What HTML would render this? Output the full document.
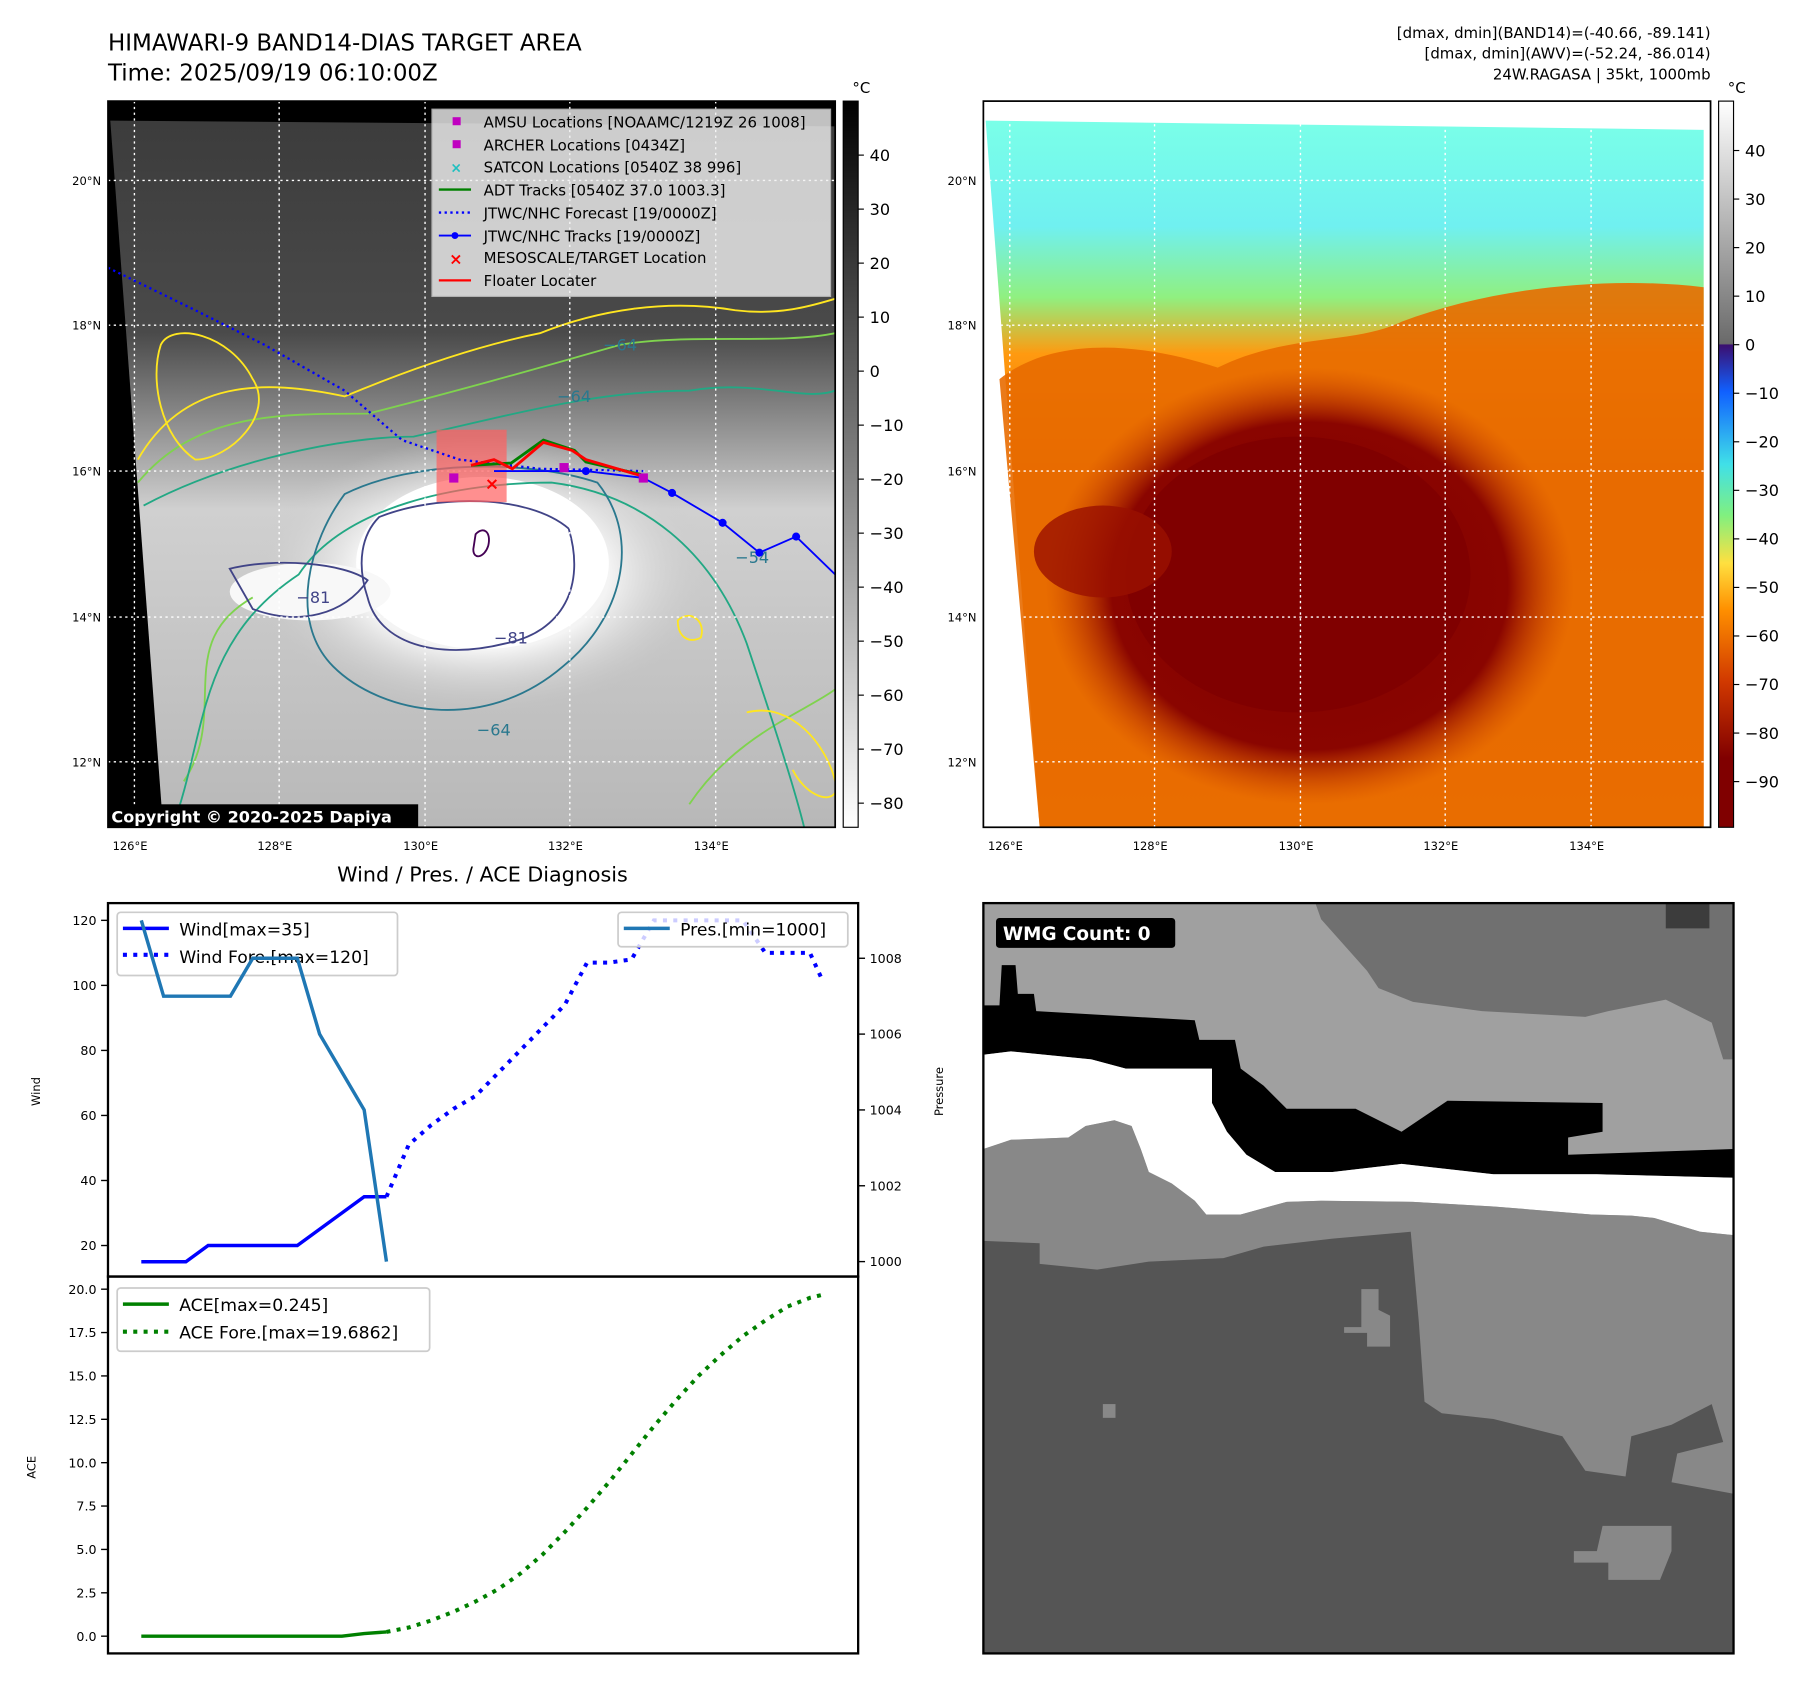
<!DOCTYPE html>
<html><head><meta charset="utf-8">
<style>
html,body{margin:0;padding:0;background:#fff;width:1801px;height:1690px;overflow:hidden}
#wrap{position:absolute;left:0;top:0;width:1568px;height:1471px;transform:scale(1.1488,1.149);transform-origin:0 0}
text{font-family:"DejaVu Sans","Liberation Sans",sans-serif}
</style></head><body>
<div id="wrap">
<svg id="svg" width="1568" height="1471" viewBox="0 0 1568 1471" xmlns="http://www.w3.org/2000/svg">
<defs>
<linearGradient id="cbL" x1="0" y1="0" x2="0" y2="1"><stop offset="0" stop-color="#000"/><stop offset="1" stop-color="#fff"/></linearGradient>
<linearGradient id="cbR" x1="0" y1="0" x2="0" y2="1">
<stop offset="0" stop-color="#fff"/><stop offset="0.334" stop-color="#6a6a6a"/><stop offset="0.336" stop-color="#3b0f70"/>
<stop offset="0.40" stop-color="#1060ff"/><stop offset="0.50" stop-color="#40e0e8"/><stop offset="0.57" stop-color="#80f080"/>
<stop offset="0.636" stop-color="#ffe040"/><stop offset="0.70" stop-color="#ff9000"/><stop offset="0.80" stop-color="#d03800"/>
<stop offset="0.905" stop-color="#800000"/><stop offset="1" stop-color="#800000"/></linearGradient>
<radialGradient id="whiteL" cx="0.5" cy="0.5" r="0.5"><stop offset="0" stop-color="#fff"/><stop offset="0.55" stop-color="#f4f4f4"/><stop offset="1" stop-color="#c8c8c8" stop-opacity="0"/></radialGradient>
<linearGradient id="mapL" x1="0" y1="0" x2="0" y2="1"><stop offset="0" stop-color="#3c3c3c"/><stop offset="0.3" stop-color="#4a4a4a"/><stop offset="0.45" stop-color="#9a9a9a"/><stop offset="0.55" stop-color="#d0d0d0"/><stop offset="1" stop-color="#b8b8b8"/></linearGradient>
<radialGradient id="redR" cx="0.5" cy="0.5" r="0.5"><stop offset="0" stop-color="#800000"/><stop offset="0.75" stop-color="#8a0500"/><stop offset="1" stop-color="#c84000" stop-opacity="0"/></radialGradient>
<linearGradient id="mapR" x1="0" y1="0" x2="0" y2="1"><stop offset="0" stop-color="#7affe8"/><stop offset="0.15" stop-color="#70f0f0"/><stop offset="0.25" stop-color="#90f080"/><stop offset="0.33" stop-color="#ff9a10"/><stop offset="0.5" stop-color="#e86800"/><stop offset="1" stop-color="#ee7800"/></linearGradient>
<clipPath id="clipL"><rect x="94" y="88" width="633" height="632"/></clipPath>
<clipPath id="clipR"><rect x="856" y="88" width="633" height="632"/></clipPath>
</defs>

<text x="94" y="44" font-size="20">HIMAWARI-9 BAND14-DIAS TARGET AREA</text>
<text x="94" y="70" font-size="20">Time: 2025/09/19 06:10:00Z</text>
<g font-size="13" text-anchor="end">
<text x="1489" y="33">[dmax, dmin](BAND14)=(-40.66, -89.141)</text>
<text x="1489" y="51">[dmax, dmin](AWV)=(-52.24, -86.014)</text>
<text x="1489" y="69">24W.RAGASA | 35kt, 1000mb</text>
</g>

<g clip-path="url(#clipL)">
<rect x="94" y="88" width="633" height="632" fill="#000"/>
<polygon points="96,105 727,110 727,720 142,720" fill="url(#mapL)"/>
<ellipse cx="420" cy="500" rx="200" ry="120" fill="url(#whiteL)"/>
<ellipse cx="420" cy="490" rx="110" ry="75" fill="#fff"/>
<ellipse cx="270" cy="515" rx="70" ry="25" fill="#f8f8f8"/>
<g fill="none" stroke-width="1.6">
<path d="M120,400 C160,330 230,330 300,345 C360,320 420,300 470,290 C520,270 580,260 640,270 C680,275 710,265 727,260" stroke="#ffe620"/>
<path d="M120,420 C170,360 240,360 320,360 C400,340 470,320 540,300 C600,290 680,300 727,290" stroke="#7fd34e"/>
<path d="M125,440 C200,400 300,380 360,380 C450,360 520,340 600,340 C660,330 700,350 727,340" stroke="#22a884"/>
<path d="M160,680 C200,620 150,560 220,520 M600,700 C640,640 700,620 727,600" stroke="#7fd34e"/>
<path d="M150,720 C180,640 170,560 260,500 C300,440 400,420 480,420 C560,430 620,480 650,560 C670,620 690,680 700,720" stroke="#22a884"/>
<path d="M300,430 C360,400 460,400 520,420 C560,470 540,540 490,580 C420,640 330,620 290,580 C250,540 270,470 300,430 Z" stroke="#2a788e"/>
<path d="M330,450 C380,430 460,430 495,460 C510,510 490,550 440,560 C380,575 330,560 320,520 C310,490 315,465 330,450 Z" stroke="#414487"/>
<path d="M200,495 C240,485 300,490 320,505 C300,535 260,545 220,530 Z" stroke="#414487"/>
<path d="M414,465 C420,458 428,462 425,475 C422,485 412,488 412,478 Z" stroke="#440154"/>
<path d="M140,300 C150,280 200,290 220,330 C240,360 200,400 170,400 C140,380 130,330 140,300 Z" stroke="#ffe620"/>
<path d="M590,540 C600,530 615,540 610,555 C600,560 590,555 590,540 Z" stroke="#ffe620"/>
<path d="M650,620 C690,610 720,650 727,680 M690,670 C700,690 720,700 727,690" stroke="#ffe620"/>
</g>
<g font-size="14" fill="#2a788e"><text x="525" y="305">−64</text><text x="485" y="350">−64</text><text x="640" y="490">−54</text><text x="415" y="640">−64</text></g>
<g font-size="14" fill="#414487"><text x="430" y="560">−81</text><text x="258" y="525">−81</text></g>
<g stroke="#fff" stroke-width="1.2" stroke-dasharray="2,3">
<line x1="117" y1="88" x2="117" y2="720"/><line x1="243" y1="88" x2="243" y2="720"/><line x1="370" y1="88" x2="370" y2="720"/><line x1="496" y1="88" x2="496" y2="720"/><line x1="623" y1="88" x2="623" y2="720"/>
<line x1="94" y1="157" x2="727" y2="157"/><line x1="94" y1="283" x2="727" y2="283"/><line x1="94" y1="410" x2="727" y2="410"/><line x1="94" y1="537" x2="727" y2="537"/><line x1="94" y1="663" x2="727" y2="663"/>
</g>
<rect x="380" y="374" width="61" height="63" fill="#ff6060" opacity="0.7"/>
<polyline points="94,233 170,270 230,300 300,340 350,383 400,400 470,408 560,410" fill="none" stroke="#0000ff" stroke-width="2" stroke-dasharray="2,3"/>
<polyline points="430,410 510,410 560,416 585,429 629,455 661,481 693,467 727,500" fill="none" stroke="#0000ff" stroke-width="1.6"/>
<g fill="#0000ff"><circle cx="510" cy="410" r="3.5"/><circle cx="585" cy="429" r="3.5"/><circle cx="629" cy="455" r="3.5"/><circle cx="661" cy="481" r="3.5"/><circle cx="693" cy="467" r="3.5"/></g>
<polyline points="410,405 445,403 473,383 500,392 510,402 558,413" fill="none" stroke="#008000" stroke-width="2.5"/>
<polyline points="410,405 430,400 446,408 473,385 498,392 510,400 558,414" fill="none" stroke="#ff0000" stroke-width="2.5"/>
<rect x="391" y="412" width="8" height="8" fill="#c000c0"/><rect x="487" y="403" width="8" height="8" fill="#c000c0"/><rect x="556" y="412" width="8" height="8" fill="#c000c0"/>
<text x="422" y="426" font-size="15" fill="#ff0000" font-weight="bold">×</text>
</g>
<rect x="94" y="88" width="633" height="632" fill="none" stroke="#000" stroke-width="1.5"/>
<g><rect x="94" y="700" width="270" height="20" fill="#000"/><text x="97" y="716" font-size="14" font-weight="bold" fill="#fff">Copyright © 2020-2025 Dapiya</text></g>
<g>
<rect x="376" y="95" width="347" height="163" fill="#f2f2f2" opacity="0.8" stroke="#ccc"/>
<g font-size="13">
<rect x="394" y="102" width="7" height="7" fill="#c000c0"/><text x="421" y="111">AMSU Locations [NOAAMC/1219Z 26 1008]</text>
<rect x="394" y="122" width="7" height="7" fill="#c000c0"/><text x="421" y="131">ARCHER Locations [0434Z]</text>
<text x="392" y="150" fill="#20c0c0" font-size="12" font-weight="bold">×</text><text x="421" y="150">SATCON Locations [0540Z 38 996]</text>
<line x1="382" y1="165" x2="410" y2="165" stroke="#008000" stroke-width="2"/><text x="421" y="170">ADT Tracks [0540Z 37.0 1003.3]</text>
<line x1="382" y1="185" x2="410" y2="185" stroke="#00f" stroke-width="2" stroke-dasharray="2,3"/><text x="421" y="190">JTWC/NHC Forecast [19/0000Z]</text>
<line x1="382" y1="205" x2="410" y2="205" stroke="#00f" stroke-width="1.6"/><circle cx="396" cy="205" r="3" fill="#00f"/><text x="421" y="210">JTWC/NHC Tracks [19/0000Z]</text>
<text x="391" y="230" fill="#f00" font-size="14" font-weight="bold">×</text><text x="421" y="229">MESOSCALE/TARGET Location</text>
<line x1="382" y1="244" x2="410" y2="244" stroke="#f00" stroke-width="2"/><text x="421" y="249">Floater Locater</text>
</g></g>
<g font-size="10">
<text x="98" y="740">126°E</text><text x="224" y="740">128°E</text><text x="351" y="740">130°E</text><text x="477" y="740">132°E</text><text x="604" y="740">134°E</text>
<g text-anchor="end"><text x="88" y="161">20°N</text><text x="88" y="287">18°N</text><text x="88" y="414">16°N</text><text x="88" y="541">14°N</text><text x="88" y="667">12°N</text></g>
</g>
<g>
<rect x="734" y="88" width="13" height="632" fill="url(#cbL)" stroke="#000"/>
<text x="742" y="81" font-size="13">°C</text>
<g font-size="14" id="cbLticks"></g>
</g>

<g clip-path="url(#clipR)">
<rect x="856" y="88" width="633" height="632" fill="#fff"/>
<polygon points="858,105 1483,113 1483,720 905,720" fill="url(#mapR)"/>
<path d="M870,330 C920,290 1000,300 1060,320 C1120,290 1180,300 1220,280 C1300,250 1400,240 1483,250 L1483,720 L905,720 Z" fill="#e86c00" opacity="0.9"/>
<ellipse cx="1140" cy="510" rx="230" ry="190" fill="url(#redR)"/>
<ellipse cx="1130" cy="500" rx="150" ry="120" fill="#800000"/>
<ellipse cx="960" cy="480" rx="60" ry="40" fill="#9a1000" opacity="0.8"/>
<g stroke="#fff" stroke-width="1.2" stroke-dasharray="2,3">
<line x1="879" y1="88" x2="879" y2="720"/><line x1="1005" y1="88" x2="1005" y2="720"/><line x1="1132" y1="88" x2="1132" y2="720"/><line x1="1258" y1="88" x2="1258" y2="720"/><line x1="1385" y1="88" x2="1385" y2="720"/>
<line x1="856" y1="157" x2="1489" y2="157"/><line x1="856" y1="283" x2="1489" y2="283"/><line x1="856" y1="410" x2="1489" y2="410"/><line x1="856" y1="537" x2="1489" y2="537"/><line x1="856" y1="663" x2="1489" y2="663"/>
</g></g>
<rect x="856" y="88" width="633" height="632" fill="none" stroke="#000" stroke-width="1.5"/>
<g font-size="10">
<text x="860" y="740">126°E</text><text x="986" y="740">128°E</text><text x="1113" y="740">130°E</text><text x="1239" y="740">132°E</text><text x="1366" y="740">134°E</text>
<g text-anchor="end"><text x="850" y="161">20°N</text><text x="850" y="287">18°N</text><text x="850" y="414">16°N</text><text x="850" y="541">14°N</text><text x="850" y="667">12°N</text></g>
</g>
<g>
<rect x="1496" y="88" width="13" height="632" fill="url(#cbR)" stroke="#000"/>
<text x="1504" y="81" font-size="13">°C</text>
<g font-size="14" id="cbRticks"></g>
</g>

<text x="420" y="767" font-size="18" text-anchor="middle">Wind / Pres. / ACE Diagnosis</text>
<g id="chart"></g>
<g>
<rect x="102" y="794" width="244" height="55" rx="3" fill="#fff" fill-opacity="0.8" stroke="#ccc" stroke-width="1.5"/>
<line x1="107" y1="808" x2="147" y2="808" stroke="#00f" stroke-width="3"/><text x="156" y="814" font-size="15">Wind[max=35]</text>
<line x1="107" y1="831" x2="147" y2="831" stroke="#00f" stroke-width="3.5" stroke-dasharray="3.5,5.5"/><text x="156" y="838" font-size="15">Wind Fore.[max=120]</text>
</g>
<g id="chart2"></g>
<rect x="94" y="786" width="653" height="325" fill="none" stroke="#000" stroke-width="2"/>
<rect x="94" y="1111" width="653" height="328" fill="none" stroke="#000" stroke-width="2"/>
<text transform="translate(35,950) rotate(-90)" font-size="10" text-anchor="middle">Wind</text>
<text transform="translate(821,950) rotate(-90)" font-size="10" text-anchor="middle">Pressure</text>
<text transform="translate(31,1277) rotate(-90)" font-size="10" text-anchor="middle">ACE</text>
<g>
<rect x="538" y="794" width="200" height="30" rx="3" fill="#fff" fill-opacity="0.8" stroke="#ccc" stroke-width="1.5"/>
<line x1="543" y1="808" x2="583" y2="808" stroke="#1f77b4" stroke-width="3"/><text x="592" y="814" font-size="15">Pres.[min=1000]</text>
</g>
<g>
<rect x="102" y="1121" width="272" height="55" rx="3" fill="#fff" fill-opacity="0.8" stroke="#ccc" stroke-width="1.5"/>
<line x1="107" y1="1135" x2="147" y2="1135" stroke="#008000" stroke-width="3"/><text x="156" y="1141" font-size="15">ACE[max=0.245]</text>
<line x1="107" y1="1159" x2="147" y2="1159" stroke="#008000" stroke-width="3.5" stroke-dasharray="3.5,5.5"/><text x="156" y="1165" font-size="15">ACE Fore.[max=19.6862]</text>
</g>

<g>
<rect x="856" y="786" width="653" height="653" fill="#a0a0a0"/>
<polygon points="1145,786 1509,786 1509,922 1500,922 1490,890 1450,870 1400,880 1380,885 1290,880 1230,872 1200,860 1190,845 1150,800" fill="#707070"/>
<rect x="1450" y="786" width="38" height="22" fill="#3c3c3c"/>
<polygon points="856,875 870,875 872,840 884,840 886,865 900,865 902,880 1040,888 1044,905 1075,905 1080,930 1100,945 1120,965 1180,965 1220,985 1260,958 1395,960 1395,985 1365,990 1365,1005 1509,1000 1509,1025 1390,1022 1300,1022 1220,1013 1160,1020 1110,1020 1085,1005 1068,985 1055,960 1055,930 980,930 950,922 880,915 856,918" fill="#000"/>
<polygon points="856,918 880,915 950,922 980,930 1055,930 1055,960 1068,985 1085,1005 1110,1020 1160,1020 1220,1013 1300,1022 1390,1022 1509,1025 1509,1075 1480,1072 1440,1060 1420,1058 1385,1057 1300,1050 1230,1046 1150,1045 1120,1046 1080,1057 1050,1057 1040,1045 1020,1030 1000,1020 993,1000 985,980 970,975 945,980 930,990 880,992 856,1000" fill="#fff"/>
<polygon points="856,1000 880,992 930,990 945,980 970,975 985,980 993,1000 1000,1020 1020,1030 1040,1045 1050,1057 1080,1057 1120,1046 1150,1045 1230,1046 1300,1050 1385,1057 1420,1058 1440,1060 1480,1072 1509,1075 1509,1439 856,1439" fill="#888"/>
<polygon points="856,1080 905,1082 905,1100 955,1105 1000,1098 1065,1095 1100,1085 1160,1078 1228,1072 1235,1150 1240,1220 1255,1230 1300,1235 1360,1250 1380,1280 1415,1285 1420,1250 1455,1240 1490,1222 1500,1255 1460,1265 1455,1290 1509,1300 1509,1439 856,1439" fill="#555"/>
<polygon points="1370,1350 1390,1350 1395,1328 1455,1328 1455,1350 1445,1375 1400,1375 1400,1360 1370,1360" fill="#888"/>
<polygon points="1170,1155 1185,1155 1185,1122 1200,1122 1200,1140 1210,1145 1210,1172 1190,1172 1190,1160 1170,1160" fill="#888"/>
<rect x="960" y="1222" width="11" height="12" fill="#888"/>
<rect x="856" y="786" width="653" height="653" fill="none" stroke="#000" stroke-width="2"/>
<rect x="867" y="799" width="156" height="26" rx="3" fill="#000"/>
<text x="873" y="818" font-size="16" font-weight="bold" fill="#fff">WMG Count: 0</text>
</g>
</svg>
</div>
<script>
const windObsIdx=[0,1,2,3,4,5,6,7,8,9,10,11];
const windObs=[15,15,15,20,20,20,20,20,25,30,35,35];
const windForeIdx=[11,12,13,14,15,16,17,18,19,20,21,22,23,24,25,26,27,28,29,30,30.6];
const windFore=[35,51,57,62,66,73,80,87,94,107,107,108,120,120,120,120,120,110,110,110,101];
const presIdx=[0,1,2,3,4,5,6,7,8,9,10,11];
const presObs=[1009,1007,1007,1007,1007,1008,1008,1008,1006,1005,1004,1000];
const aceObsIdx=[0,1,2,3,4,5,6,7,8,9,10,11];
const aceObs=[0,0,0,0,0,0,0,0,0,0,0.15,0.245];
const aceForeIdx=[11,12,13,14,15,16,17,18,19,20,21,22,23,24,25,26,27,28,29,30,30.6];
const aceFore=[0.245,0.5,0.9,1.4,2.0,2.7,3.6,4.7,6.0,7.4,8.9,10.5,12.1,13.6,15.0,16.2,17.3,18.2,19.0,19.5,19.69];
const windTicks=[20,40,60,80,100,120];
const presTicks=[1000,1002,1004,1006,1008];
const aceTicks=[0,2.5,5,7.5,10,12.5,15,17.5,20];
const cbLTicks=[40,30,20,10,0,-10,-20,-30,-40,-50,-60,-70,-80];
const cbRTicks=[40,30,20,10,0,-10,-20,-30,-40,-50,-60,-70,-80,-90];

const NS='http://www.w3.org/2000/svg';
const X=i=>123+19.4*i;
const YW=w=>801+(120-w)*2.83;
const YP=p=>1098-(p-1000)*33;
const YA=a=>1424-a*15.1;
const g=document.getElementById('chart');
const g2=document.getElementById('chart2');
function mk(tag,attrs,parent){const e=document.createElementNS(NS,tag);for(const k in attrs)e.setAttribute(k,attrs[k]);(parent||g).appendChild(e);return e;}
function line(xs,ys,fx,fy,stroke,w,dash,name,parent){
  const pts=xs.map((x,i)=>fx(x)+','+fy(ys[i])).join(' ');
  const p=mk('polyline',{points:pts,fill:'none',stroke:stroke,'stroke-width':w},parent);
  if(dash)p.setAttribute('stroke-dasharray',dash);
  
  
}
line(windObsIdx,windObs,X,YW,'#0000ff',3,null,'wind-observed-line');
line(windForeIdx,windFore,X,YW,'#0000ff',3.5,'3.5,5.5','wind-forecast-line');
line(presIdx,presObs,X,YP,'#1f77b4',3,null,'pressure-line',g2);
line(aceObsIdx,aceObs,X,YA,'#008000',3,null,'ace-observed-line');
line(aceForeIdx,aceFore,X,YA,'#008000',3.5,'3.5,5.5','ace-forecast-line');
function ticks(vals,fy,xa,left,fmt,name){
  vals.forEach(v=>{
    const y=fy(v);
    mk('line',{x1:left?xa-6:xa,x2:left?xa:xa+6,y1:y,y2:y,stroke:'#000','stroke-width':1.2});
    const t=mk('text',{x:left?xa-10:xa+10,y:y+4,'font-size':11,'text-anchor':left?'end':'start'});
    t.textContent=fmt(v);
    
    
  });
}
ticks(windTicks,YW,94,true,v=>String(v),'wind-tick-label');
ticks(presTicks,YP,747,false,v=>String(v),'pressure-tick-label');
ticks(aceTicks,YA,94,true,v=>v.toFixed(1),'ace-tick-label');
function cb(vals,gid,x,fy){
  const gg=document.getElementById(gid);
  vals.forEach(v=>{
    const y=fy(v);
    mk('line',{x1:x,x2:x+5,y1:y,y2:y,stroke:'#000'},gg);
    const t=mk('text',{x:x+10,y:y+5},gg);
    t.textContent=v<0?'\u2212'+(-v):String(v);
    
    
  });
}
cb(cbLTicks,'cbLticks',747,v=>323-v*4.7);
cb(cbRTicks,'cbRticks',1509,v=>300-v*4.225);
</script>
</body></html>
